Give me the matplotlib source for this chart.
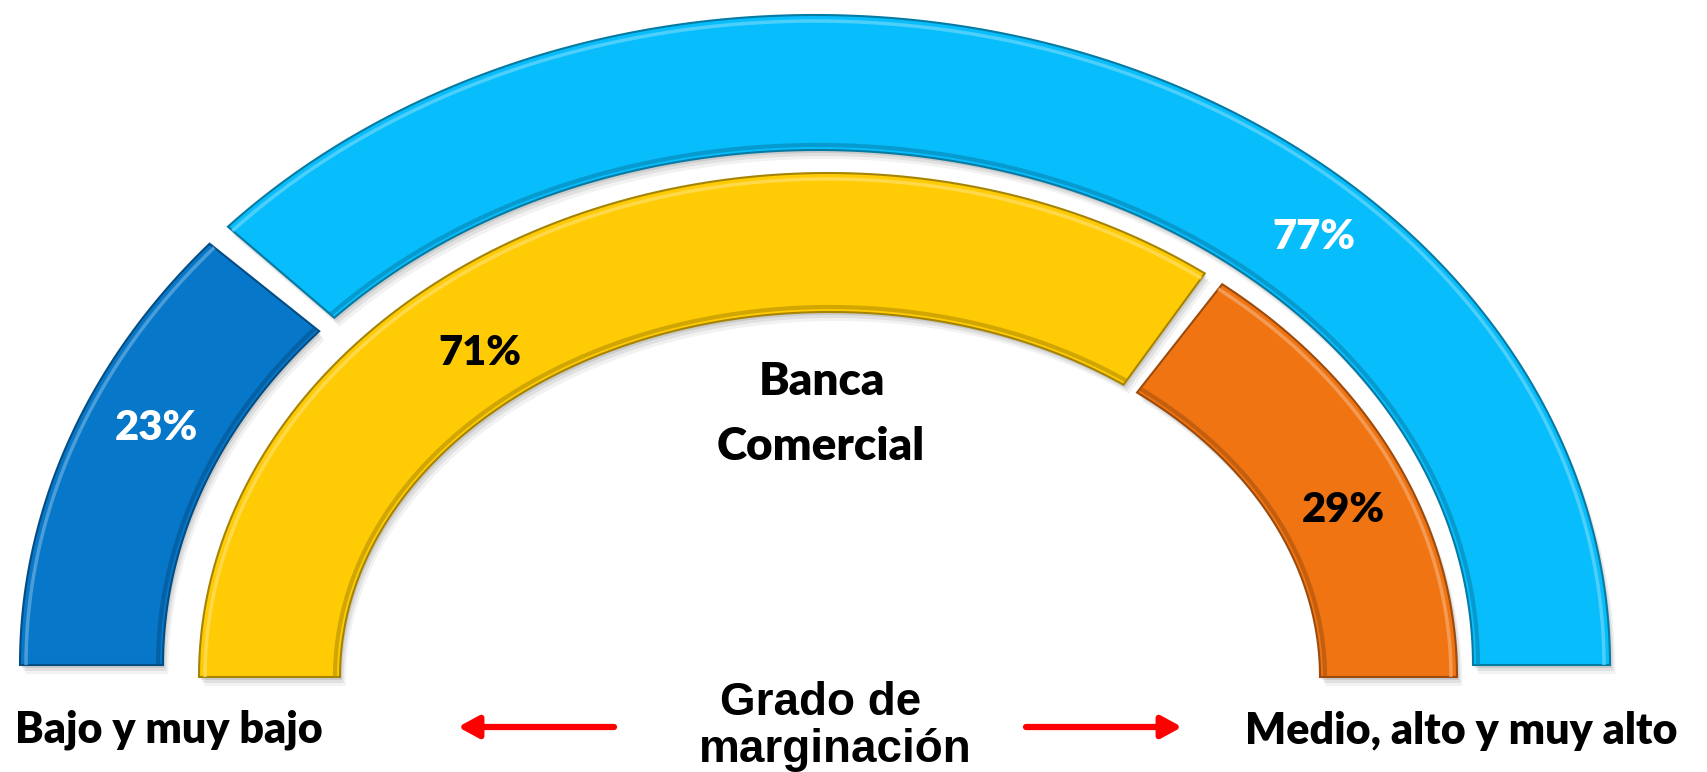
import numpy as np
import matplotlib.pyplot as plt
from matplotlib.patches import Polygon
from matplotlib.colors import to_rgb

# values (percent)
categories = ["Bajo y muy bajo", "Medio, alto y muy alto"]
outer_pct = [23, 77]
inner_pct = [71, 29]
outer_colors = ["#0677C9", "#08BDFB"]
inner_colors = ["#FFCB05", "#F07412"]
outer_label_colors = ["white", "white"]
inner_label_colors = ["black", "black"]
center_text = ["Banca", "Comercial"]
axis_title = ["Grado de", "marginación"]

W, H = 1707, 772
fig = plt.figure(figsize=(W / 100, H / 100), dpi=100)
ax = fig.add_axes([0, 0, 1, 1])
ax.set_xlim(0, W)
ax.set_ylim(H, 0)
ax.axis("off")

# ring geometry in pixel units: (cx, base_y, rx, ry)
OUTER_RING = ((815, 665, 795, 650), (818, 665, 655, 515))
INNER_RING = ((828, 677, 629, 504), (830, 677, 490, 365))
GAP = 1.0  # degrees on each side of a cut
LABEL_FONT = ["Lato", "DejaVu Sans"]


def shade(c, f):
    r, g, b = to_rgb(c)
    if f < 0:
        return (r * (1 + f), g * (1 + f), b * (1 + f))
    return (r + (1 - r) * f, g + (1 - g) * f, b + (1 - b) * f)


def arc(ell, t):
    cx, cy, rx, ry = ell
    return cx + rx * np.cos(t), cy - ry * np.sin(t)


def segment(t1, t2, outer, inner, n=240):
    ts = np.radians(np.linspace(t1, t2, n))
    ox, oy = arc(outer, ts)
    ix, iy = arc(inner, ts[::-1])
    return np.column_stack([np.r_[ox, ix], np.r_[oy, iy]])


def draw_ring(pcts, colors, ring, drop=None):
    outer, inner = ring
    cum = np.cumsum([0] + list(pcts)) / 100.0
    for i, c in enumerate(colors):
        t1 = 180 - 180 * cum[i]
        t2 = 180 - 180 * cum[i + 1]
        if i > 0:
            t1 -= GAP
        if i < len(colors) - 1:
            t2 += GAP
        pts = segment(t1, t2, outer, inner)
        # soft drop shadow
        for k, a in [(9, 0.05), (6, 0.07), (3, 0.09)]:
            ax.add_patch(Polygon(pts + [k * 0.6, k], closed=True,
                                 facecolor="black", edgecolor="none",
                                 alpha=a, zorder=1))
        ax.add_patch(Polygon(pts, closed=True, facecolor=c,
                             edgecolor=shade(c, -0.35), linewidth=1.5, zorder=2))
        # bevel highlight along outer edge, darker along inner edge
        ts = np.radians(np.linspace(t1, t2, 240))
        cx, cy, rx, ry = outer
        hx, hy = arc((cx, cy, rx - 6, ry - 6), ts)
        ax.plot(hx, hy, color=shade(c, 0.35), lw=2.5, alpha=0.8,
                solid_capstyle="butt", zorder=3)
        cx, cy, rx, ry = inner
        dx, dy = arc((cx, cy, rx + 5, ry + 5), ts)
        ax.plot(dx, dy, color=shade(c, -0.3), lw=3, alpha=0.6,
                solid_capstyle="butt", zorder=3)


draw_ring(outer_pct, outer_colors, OUTER_RING)
draw_ring(inner_pct, inner_colors, INNER_RING)

pct_font = dict(family=LABEL_FONT, fontweight="heavy",
                fontsize=30, ha="center", va="baseline", zorder=5)
outer_pos = [(156, 440), (1314, 249)]
inner_pos = [(480, 365), (1343, 522)]
for v, (x, y), col in zip(outer_pct, outer_pos, outer_label_colors):
    ax.text(x, y, f"{v}%", color=col, **pct_font)
for v, (x, y), col in zip(inner_pct, inner_pos, inner_label_colors):
    ax.text(x, y, f"{v}%", color=col, **pct_font)

ax.text(822, 395, center_text[0], family=LABEL_FONT,
        fontweight="heavy", fontsize=33, ha="center", va="baseline")
ax.text(821, 460, center_text[1], family=LABEL_FONT,
        fontweight="heavy", fontsize=33, ha="center", va="baseline")

ax.text(169, 743, categories[0], family=LABEL_FONT,
        fontweight="heavy", fontsize=31, ha="center", va="baseline")
ax.text(1461, 744, categories[1], family=LABEL_FONT,
        fontweight="heavy", fontsize=31, ha="center", va="baseline")

ax.text(821, 715, axis_title[0], family=["Liberation Sans", "DejaVu Sans"],
        fontweight="bold", fontsize=33, ha="center", va="baseline")
ax.text(835, 762, axis_title[1], family=["Liberation Sans", "DejaVu Sans"],
        fontweight="bold", fontsize=33, ha="center", va="baseline")

arrow = dict(arrowstyle="-|>,head_length=0.55,head_width=0.3", color="#FF0000",
             lw=4.5, mutation_scale=22, shrinkA=0, shrinkB=0)
ax.annotate("", xy=(458, 727), xytext=(614, 727), arrowprops=arrow)
ax.annotate("", xy=(1182, 727), xytext=(1026, 727), arrowprops=arrow)

fig.savefig("out.png", dpi=100, facecolor="white")
